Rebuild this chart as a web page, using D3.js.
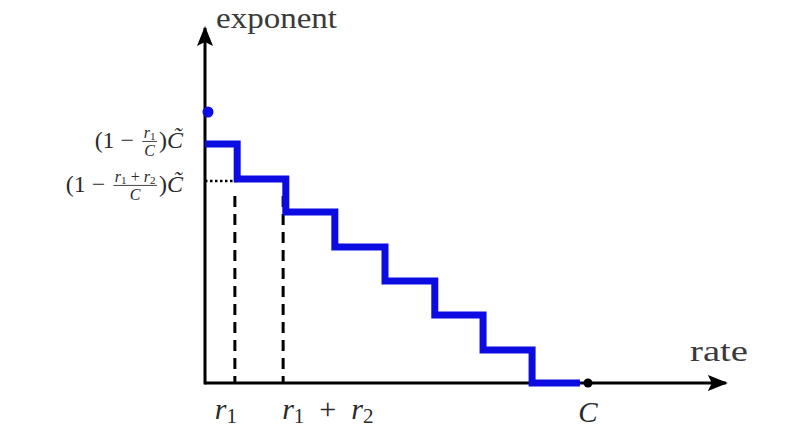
<!DOCTYPE html>
<html lang="en">
<head>
<meta charset="UTF-8">
<title>Exponent vs rate</title>
<script src="https://d3js.org/d3.v7.min.js"></script>
<style>
  body { margin: 0; background: #fff; }
  svg text { font-family: "Liberation Serif", "Times New Roman", "DejaVu Serif", serif; fill: #2a2a2a; }
</style>
</head>
<body>
<div id="chart"></div>
<script>
// step function breakpoints (rate, as a fraction of C) and the level after each
var stepRates  = [0, 0.084, 0.211, 0.339, 0.470, 0.600, 0.726, 0.854, 0.979];
var stepLevels = [0.882, 0.753, 0.631, 0.502, 0.376, 0.251, 0.122, 0, 0];
// marked rates on the x axis
var markRates  = [0.078, 0.204];
var markNames  = ["r1", "r1 + r2"];
var capRate    = 1;      // C
var startLevel = 1;      // C tilde, the value at rate 0
var axisMaxX   = 1.36;
var axisMaxY   = 1.31;

var width = 799, height = 429;

var svg = d3.select("#chart").append("svg")
    .attr("width", width)
    .attr("height", height)
    .attr("font-family", "'Liberation Serif', 'Times New Roman', serif");

var x = d3.scaleLinear().domain([0, 1]).range([205, 588]);
var y = d3.scaleLinear().domain([0, 1]).range([383, 112]);

var blue = "#0c0ce2";

// arrow heads
var defs = svg.append("defs");
defs.append("marker")
    .attr("id", "arrow")
    .attr("viewBox", "0 0 20 18")
    .attr("refX", 18).attr("refY", 9)
    .attr("markerWidth", 20).attr("markerHeight", 18)
    .attr("markerUnits", "userSpaceOnUse")
    .attr("orient", "auto")
  .append("path")
    .attr("d", "M0,1 L20,9 L0,17 L4,9 Z")
    .attr("fill", "#000");

// dashed guides at r1 and r1 + r2
svg.selectAll(".guide")
  .data(markRates)
  .enter().append("line")
    .attr("class", "guide")
    .attr("x1", function(d) { return x(d); })
    .attr("x2", function(d) { return x(d); })
    .attr("y1", y(0.69))
    .attr("y2", y(0))
    .attr("stroke", "#000")
    .attr("stroke-width", 3)
    .attr("stroke-dasharray", "11,7");

// dotted guide at second level
svg.append("line")
    .attr("x1", x(0)).attr("x2", x(stepRates[1]))
    .attr("y1", y(stepLevels[1]) + 2).attr("y2", y(stepLevels[1]) + 2)
    .attr("stroke", "#000")
    .attr("stroke-width", 2.5)
    .attr("stroke-dasharray", "2.5,2.5");

// axes
svg.append("line")
    .attr("x1", x(0)).attr("y1", y(0))
    .attr("x2", x(axisMaxX)).attr("y2", y(0))
    .attr("stroke", "#000").attr("stroke-width", 3)
    .attr("marker-end", "url(#arrow)");
svg.append("line")
    .attr("x1", x(0)).attr("y1", y(0) + 1.5)
    .attr("x2", x(0)).attr("y2", y(axisMaxY))
    .attr("stroke", "#000").attr("stroke-width", 3)
    .attr("marker-end", "url(#arrow)");

// the step curve
var pts = stepRates.map(function(r, i) { return [r, stepLevels[i]]; });
var line = d3.line()
    .x(function(d) { return x(d[0]); })
    .y(function(d) { return y(d[1]); })
    .curve(d3.curveStepAfter);
svg.append("path")
    .datum(pts)
    .attr("d", line)
    .attr("fill", "none")
    .attr("stroke", blue)
    .attr("stroke-width", 7)
    .attr("stroke-linejoin", "miter");

// dot at C tilde and at C
svg.append("circle")
    .attr("cx", x(0) + 3).attr("cy", y(startLevel))
    .attr("r", 5.5).attr("fill", blue);
svg.append("circle")
    .attr("cx", x(capRate)).attr("cy", y(0))
    .attr("r", 4.5).attr("fill", "#000");

// axis names
svg.append("text")
    .attr("x", 216).attr("y", 28)
    .attr("font-size", 29)
    .attr("textLength", 121).attr("lengthAdjust", "spacingAndGlyphs")
    .style("fill", "#3a3a3a")
    .text("exponent");
svg.append("text")
    .attr("x", 690).attr("y", 361)
    .attr("font-size", 29)
    .attr("textLength", 58).attr("lengthAdjust", "spacingAndGlyphs")
    .style("fill", "#3a3a3a")
    .text("rate");

// "r1 + r2" -> tokens [text, kind]; kind "i" italic, "s" subscript, "o" operator
function tok(name, pad) {
  var out = [];
  name.split(" ").forEach(function(part) {
    if (part === "+") { out.push([pad + "+" + pad, "o"]); return; }
    out.push([part[0], "i"]);
    out.push([part.slice(1), "s"]);
  });
  return out;
}

// write tokens into a text element; subscripts drop, next token comes back up
function mathTokens(sel, tokens, size) {
  var sub = size * 0.14, down = false;
  tokens.forEach(function(t) {
    var ts = sel.append("tspan").text(t[0]);
    if (t[1] === "i") ts.attr("font-style", "italic");
    if (t[1] === "s") { ts.attr("font-size", size * 0.7).attr("dy", sub); down = true; }
    else if (down) { ts.attr("dy", -sub); down = false; }
  });
  return sel;
}

// bottom labels
var labelX = [x(markRates[0]) - 20, x(markRates[1]) - 1];
markNames.forEach(function(n, i) {
  var t = svg.append("text")
      .attr("x", labelX[i]).attr("y", 419)
      .attr("font-size", 30);
  mathTokens(t, tok(n, "\u00a0\u00a0"), 30);
});
svg.append("text")
    .attr("x", x(capRate)).attr("y", 422)
    .attr("font-size", 29)
    .attr("font-style", "italic")
    .attr("text-anchor", "middle")
    .text("C");

// y labels (1 - num/C) C~
function yLabel(level, numName, dyBase) {
  var fs = 24, fsf = 16;
  var g = svg.append("g")
      .attr("transform", "translate(183," + (y(level) + dyBase) + ")");
  var tail = g.append("text").attr("font-size", fs).attr("text-anchor", "end");
  tail.append("tspan").text(")");
  tail.append("tspan").attr("font-style", "italic").text("C\u0303");
  var w1 = tail.node().getComputedTextLength();

  var num = g.append("text").attr("font-size", fsf).attr("text-anchor", "middle");
  mathTokens(num, tok(numName, "\u00a0"), fsf);
  var wn = num.node().getComputedTextLength();
  var fw = Math.max(wn, 11) + 3;
  var cx = -w1 - 2 - fw / 2;
  num.attr("x", cx).attr("y", -10);
  g.append("text").attr("font-size", fsf).attr("font-style", "italic")
      .attr("text-anchor", "middle")
      .attr("x", cx).attr("y", 8)
      .text("C");
  g.append("line")
      .attr("x1", cx - fw / 2).attr("x2", cx + fw / 2)
      .attr("y1", -6.5).attr("y2", -6.5)
      .attr("stroke", "#333").attr("stroke-width", 0.9);

  g.append("text").attr("font-size", fs).attr("text-anchor", "end")
      .attr("x", cx - fw / 2 - 2)
      .text("(1\u00a0\u2212\u00a0");
}
yLabel(stepLevels[0], markNames[0], 4);
yLabel(stepLevels[1], markNames[1], 13);
</script>
</body>
</html>
